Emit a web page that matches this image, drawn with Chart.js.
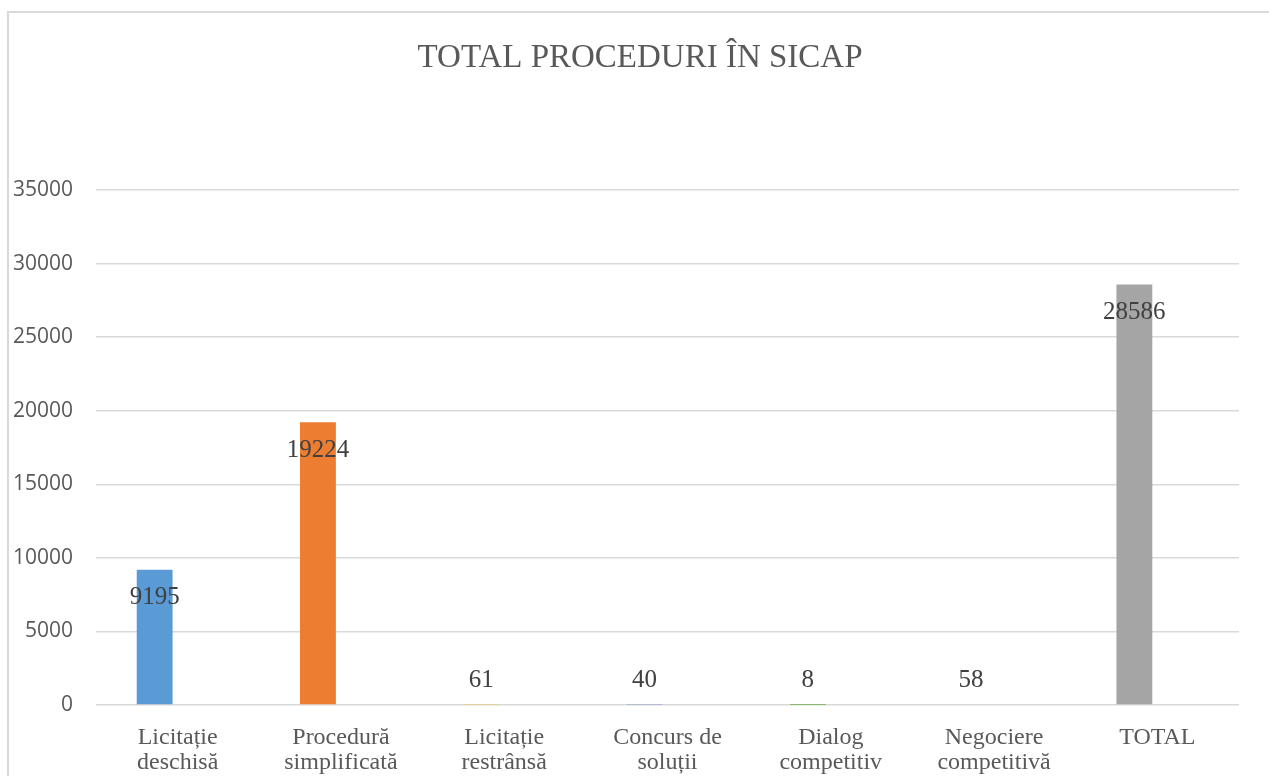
<!DOCTYPE html>
<html>
<head>
<meta charset="utf-8">
<script src="https://cdn.jsdelivr.net/npm/chart.js@4/dist/chart.umd.min.js"></script>
<style>
  html, body { margin: 0; padding: 0; background: #fff; overflow: hidden; }
  #frame { position: absolute; left: 7px; top: 11px; width: 2000px; height: 2000px;
           border-left: 2px solid #d9d9d9; border-top: 2px solid #d9d9d9; }
  #wrap { position: absolute; left: 0; top: 0; width: 1269px; height: 776px; }
</style>
</head>
<body>
<div id="frame"></div>
<div id="wrap"><canvas id="chartProceduri"></canvas></div>
<script>
// categorii si valori
const titlu = 'TOTAL PROCEDURI ÎN SICAP';
const categorii = [
    ['Licitație', 'deschisă'],
    ['Procedură', 'simplificată'],
    ['Licitație', 'restrânsă'],
    ['Concurs de', 'soluții'],
    ['Dialog', 'competitiv'],
    ['Negociere', 'competitivă'],
    'TOTAL'
];
const valori = [9195, 19224, 61, 40, 8, 58, 28586];
const culori = ['#5B9BD5', '#ED7D31', '#FFC000', '#4472C4', '#70AD47', '#255E91', '#A5A5A5'];
const ticksY = [0, 5000, 10000, 15000, 20000, 25000, 30000, 35000];

const serif = '"Liberation Serif", "DejaVu Serif", serif';
const gri = '#595959';

// titlul, centrat pe tot chenarul graficului (ca in Excel)
const titluGrafic = {
    id: 'titluGrafic',
    afterDraw(chart) {
        const ctx = chart.ctx;
        ctx.save();
        ctx.font = '33px ' + serif;
        ctx.fillStyle = gri;
        ctx.textAlign = 'center';
        ctx.textBaseline = 'middle';
        ctx.fillText(titlu, 640, 58);
        ctx.restore();
    }
};

// etichete de date, ca in Excel (in interior sus, sau deasupra daca bara e mica)
const eticheteDate = {
    id: 'eticheteDate',
    afterDatasetsDraw(chart) {
        const meta = chart.getDatasetMeta(0);
        const ctx = chart.ctx;
        ctx.save();
        ctx.font = '25px ' + serif;
        ctx.fillStyle = '#404040';
        ctx.textAlign = 'center';
        ctx.textBaseline = 'middle';
        meta.data.forEach((bar, i) => {
            const h = bar.base - bar.y;
            const y = h > 45 ? bar.y + 28 : bar.base - 24;
            ctx.fillText(String(valori[i]), bar.x, y);
        });
        ctx.restore();
    }
};

const ctx = document.getElementById('chartProceduri');
new Chart(ctx, {
    type: 'bar',
    data: {
        labels: categorii,
        datasets: [
            {
                label: 'Proceduri',
                data: valori,
                backgroundColor: culori,
                borderWidth: 0,
                categoryPercentage: 0.563,
                barPercentage: 0.78
            },
            {
                label: '',
                data: [],
                backgroundColor: '#ffffff',
                categoryPercentage: 0.563,
                barPercentage: 0.78
            }
        ]
    },
    options: {
        responsive: true,
        maintainAspectRatio: false,
        animation: false,
        layout: { padding: { left: 0, right: 30, top: 190, bottom: 0 } },
        scales: {
            y: {
                min: 0,
                max: 35000,
                afterBuildTicks: (scale) => { scale.ticks = ticksY.map(v => ({ value: v })); },
                afterFit: (scale) => { scale.width = 96; },
                border: { display: false },
                grid: { color: '#d9d9d9', lineWidth: 1.5, drawTicks: false },
                ticks: {
                    padding: 23,
                    color: gri,
                    callback: (v) => String(v),
                    font: { family: '"Open Sans", "Liberation Sans", sans-serif', size: 21 }
                }
            },
            x: {
                afterFit: (scale) => { scale.height = 71; },
                border: { display: false },
                grid: { display: false, drawTicks: false },
                ticks: {
                    padding: 20,
                    color: gri,
                    maxRotation: 0,
                    autoSkip: false,
                    font: { family: serif, size: 24, lineHeight: 1.05 }
                }
            }
        },
        plugins: {
            legend: { display: false },
            tooltip: { enabled: false },
            title: { display: false }
        }
    },
    plugins: [eticheteDate, titluGrafic]
});
</script>
</body>
</html>
